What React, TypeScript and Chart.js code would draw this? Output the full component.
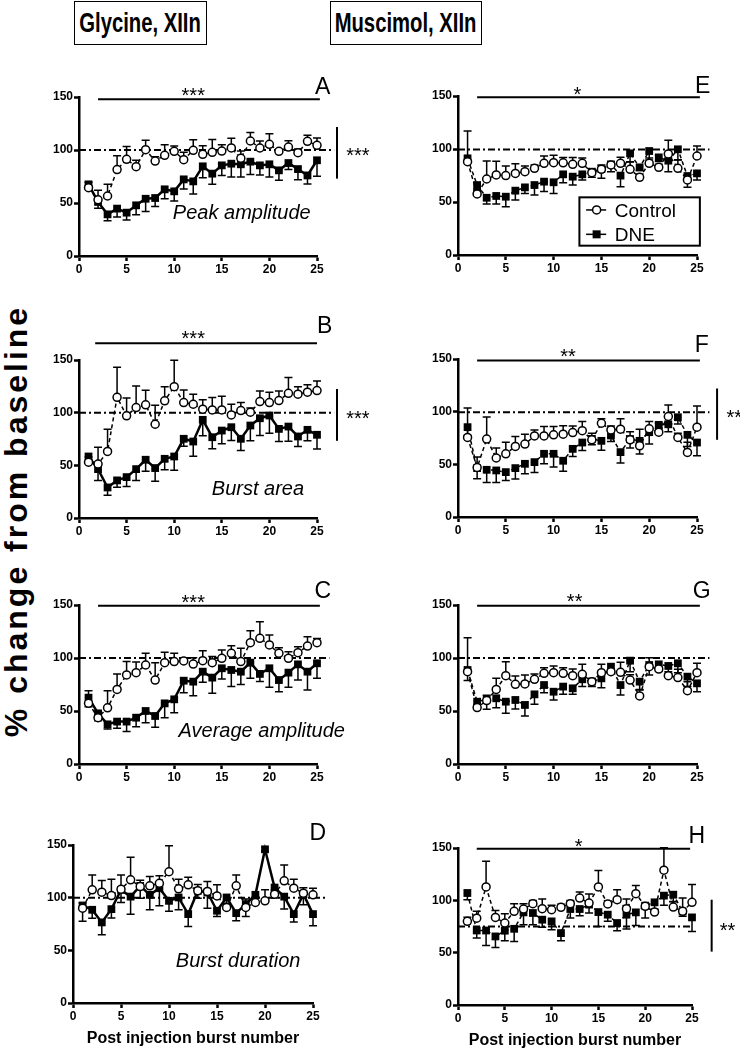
import React, { useEffect, useRef } from "react";
import { Chart, registerables } from "chart.js";

Chart.register(...registerables);

// ---------- data ----------
const bursts = [1, 2, 3, 4, 5, 6, 7, 8, 9, 10, 11, 12, 13, 14, 15, 16, 17, 18, 19, 20, 21, 22, 23, 24, 25];

// Glycine – peak amplitude (A)
const glyPeakCtrl = [64.5, 53, 56.6, 81.5, 91.2, 84.3, 100.3, 89.6, 95, 98.8, 90.9, 99.7, 95.9, 97.8, 99, 102, 92.1, 108.5, 101.9, 105.4, 98.8, 102.8, 97.5, 108.2, 104.4];
const glyPeakCtrlErr = [5, 9, 11, 13, 12, 6, 9, 4, 10, 5, 7, 10, 8, 12, 6, 9, 7, 8, 6.6, 10, 2, 6, 3.5, 5.6, 7];
const glyPeakDne = [67.6, 51, 39.3, 44.7, 40.9, 47.8, 54, 54.7, 62.9, 61, 72.3, 70.4, 84.6, 77.7, 85.5, 87.1, 86.5, 89, 85.5, 86.5, 80.8, 87.7, 82, 76, 90.3];
const glyPeakDneErr = [4, 6, 6, 8, 7, 9, 12, 8, 9, 9, 9, 12, 10.7, 10, 9.5, 12.6, 12, 12, 9, 12, 9.4, 6, 10, 8, 15];

// Glycine – burst area (B)
const glyAreaCtrl = [53, 51.2, 63.2, 114.6, 97, 104.8, 107.4, 89, 111.2, 124.7, 109.6, 108, 103.3, 102.6, 102.6, 97.9, 102, 100.4, 110.5, 109.6, 111.5, 118.4, 117.5, 119.4, 121];
const glyAreaCtrlErr = [5, 16, 21, 28.5, 17, 20.5, 14, 18, 13.5, 25, 12, 9.5, 9, 11.7, 13, 10, 7.6, 4, 10, 9.8, 9, 15, 7, 7, 9];
const glyAreaDne = [58.4, 46.4, 29, 35.7, 38.8, 46.4, 55.3, 47.4, 56.2, 58.4, 75.2, 72.6, 93.2, 76.7, 83, 86.2, 75.2, 87.8, 94.7, 97.3, 84.6, 86.8, 77.4, 83.7, 79];
const glyAreaDneErr = [5, 10.7, 7.5, 6.6, 8.8, 10.7, 11, 12.6, 10.4, 13, 7.2, 14, 15, 11, 12.6, 12.6, 11, 14.5, 16.4, 16.8, 12, 14, 9.5, 10.4, 13.6];

// Glycine – average amplitude (C)
const glyAvgCtrl = [57.2, 43.7, 53, 70.4, 84, 86.2, 93.4, 79.2, 95.6, 96.6, 97.2, 94.3, 97.5, 95.6, 99.7, 104.4, 96.6, 114.5, 118.6, 112.3, 104.4, 99.7, 105, 111.3, 114.5];
const glyAvgCtrlErr = [12, 5.7, 16, 14.5, 12.6, 10, 11, 16.4, 9.8, 7.9, 3, 6, 9.4, 5.7, 7.9, 7.2, 12.6, 11.3, 15.7, 9.4, 5.3, 6.3, 5.7, 8.8, 4];
const glyAvgDne = [62.6, 47.8, 37.4, 40, 40, 43.7, 50, 45.3, 57.2, 61, 78.6, 77.7, 87.1, 81.5, 90.3, 88.7, 87.1, 95.6, 85, 90.3, 79.2, 86.2, 94, 87.1, 95];
const glyAvgDneErr = [8.5, 7, 4.4, 6.3, 9.4, 8.5, 11, 10.7, 13.5, 12.6, 11.3, 13.2, 10, 14.8, 10, 15.7, 12, 14.8, 7.2, 18, 11, 13.8, 14.8, 17.3, 14];

// Glycine – burst duration (D)
const glyDurCtrl = [90, 107.4, 105.2, 102, 108, 116.9, 110.5, 111.2, 113.7, 124.6, 108.4, 112.2, 106.5, 105.9, 101.7, 90.7, 111.2, 90.7, 95.4, 97, 103.3, 116, 109, 104.3, 102.7];
const glyDurCtrlErr = [5, 14.2, 11, 15.5, 13.6, 21.5, 6, 8.8, 7, 24.8, 9, 7.3, 6, 9.4, 10.5, 4, 10.4, 8, 5, 10.4, 4, 15, 8.5, 5, 6.3];
const glyDurDne = [92.6, 88.5, 76.5, 89.1, 107.4, 101, 111.2, 102.7, 109, 97, 100.2, 84.4, 106.5, 104.9, 87.6, 100.2, 85.3, 93.9, 102.7, 145.9, 109.6, 101, 84.4, 103.3, 84.4];
const glyDurDneErr = [15, 8, 11.7, 8.5, 12, 16.7, 11.7, 14.2, 16.7, 10, 11.7, 11.7, 7, 15, 5.4, 6, 7.3, 11.7, 3, 2, 10, 11.7, 7.6, 10, 11];

// Muscimol – peak amplitude (E)
const musPeakCtrl = [88, 57.6, 71.7, 75.5, 74.9, 77, 78.6, 81.8, 86.5, 87.1, 87, 85.5, 86.5, 77.7, 80.8, 85, 86.5, 80.8, 73.3, 86.5, 82.7, 95.3, 81.8, 70.8, 93.4];
const musPeakCtrlErr = [29, 3, 17, 13, 9, 9, 5.4, 3, 7, 7, 5, 6.5, 5, 3, 4, 3, 5.7, 7, 3, 5, 3, 13, 8, 4.7, 9.4];
const musPeakDne = [91.2, 66, 54, 55.7, 55, 60.7, 63.8, 66, 69.2, 68.6, 76.1, 73.9, 76.1, 78.6, 81.1, 85.5, 74.9, 95.9, 82.7, 98.1, 92.1, 89, 99.7, 74.5, 77];
const musPeakDneErr = [4, 4, 6, 7.5, 9.4, 8.8, 5.7, 9.4, 9.4, 10.6, 7.9, 7.9, 5.3, 5.3, 8.8, 7, 10.4, 8, 3, 8.5, 4, 10.4, 10, 10.7, 6.3];

// Muscimol – burst area (F)
const musAreaCtrl = [75.5, 47, 74, 56, 60, 67, 69.2, 77, 77, 78, 78.6, 80.2, 82, 73.3, 89, 82.7, 83.4, 73.3, 67.6, 83.7, 80.5, 95.4, 75.5, 61.3, 85.3];
const musAreaCtrlErr = [28, 10, 21, 9.5, 11, 9.5, 9.4, 5.7, 8.8, 8, 8, 6.3, 8.6, 6.3, 4.2, 3.8, 9.8, 7.7, 15.8, 7, 8.5, 11, 4, 9.7, 20];
const musAreaDne = [85.3, 46.4, 44.8, 44.2, 42.6, 46.4, 50.5, 52.1, 60, 60, 53.4, 64.7, 70.7, 74.2, 72.3, 77.4, 61.6, 74, 72.3, 80.5, 87.5, 88, 94.7, 78, 70.7];
const musAreaDneErr = [8, 10, 12, 11.4, 8, 10.4, 9.5, 9.8, 9.5, 12.6, 10, 7.2, 7.6, 5.7, 9, 5.7, 10.4, 8.5, 12.6, 11.3, 3.8, 7, 6.3, 11, 12.6];

// Muscimol – average amplitude (G)
const musAvgCtrl = [87.1, 53.2, 59.8, 70.4, 83.3, 75.2, 75.5, 79.9, 85.5, 86.2, 85.5, 83.3, 84.6, 77.7, 86.2, 87.1, 86.5, 79.2, 64.2, 91.8, 89.6, 83.3, 81.5, 69.2, 86.2];
const musAvgCtrlErr = [32, 3, 5, 10.4, 13.2, 7.9, 8.5, 5, 5.4, 6.3, 5.4, 6.3, 9.4, 3, 7.8, 2, 9.4, 5, 6, 8.5, 2, 2, 7.8, 8.5, 8.8];
const musAvgDne = [88.7, 58.8, 61, 62, 58.8, 60.4, 55.7, 65.7, 74.5, 68.2, 73, 71.4, 79.9, 77.7, 80.8, 91.8, 74.5, 97.5, 77.7, 93.4, 94, 92.5, 95, 82.4, 76.1];
const musAvgDneErr = [10, 5.8, 9.4, 9, 11, 8.5, 10.4, 9.4, 7.2, 7.9, 7.2, 5.7, 6.9, 4.7, 8.8, 3, 9.4, 10.4, 7.9, 9.4, 6.3, 5.4, 8.8, 9.4, 7.9];

// Muscimol – burst duration (H)
const musDurCtrl = [79.9, 83, 112.8, 83.7, 78.3, 89.5, 91.7, 96.8, 92, 91, 93.3, 96.8, 102.2, 97.4, 112.8, 96.5, 100.6, 92, 106.4, 94.3, 88.8, 128.8, 93.6, 89.5, 98.1];
const musDurCtrlErr = [4, 6.5, 24.6, 6.7, 9, 7.3, 5.1, 3, 9.3, 4.2, 3, 3, 5.8, 8.6, 15.6, 3, 9.6, 9.3, 7.7, 3, 3, 21.4, 5, 12.8, 17];
const musDurDne = [107, 71.2, 71.2, 65.5, 71, 72.8, 88.5, 87.9, 81.5, 79.9, 68.7, 91.7, 91.7, 95.9, 88.8, 86.3, 78.3, 86.3, 88.5, 94.9, 98.1, 104.5, 105.4, 89.5, 83.7];
const musDurDneErr = [6.4, 7.3, 14.3, 10.5, 9.6, 12.1, 11.8, 11.2, 7.1, 8, 7.3, 8.6, 6.4, 8, 13.8, 6.4, 7.3, 13.8, 12.5, 11.8, 7, 9.3, 6.4, 4.8, 13.4];

const xTicks = [0, 5, 10, 15, 20, 25];
const yTicks = [0, 50, 100, 150];
const seriesNames = ["Control", "DNE"];

// ---------- layout ----------
const FONT = "'Liberation Sans', Arial, Helvetica, sans-serif";
const Y_W = 50;
const PAD_TOP = 62;
const PAD_RIGHT = 85;

type PanelCfg = {
  letter: string;
  lx: number;
  ly: number;
  ctrl: number[];
  ctrlErr: number[];
  dne: number[];
  dneErr: number[];
  area: { l: number; t: number; r: number; b: number };
  solidDne: boolean;
  refY: number;
  refEnd: number;
  sig?: { x0: number; x1: number; y: number; text: string; tx: number; ty: number };
  vsig?: { x: number; y0: number; y1: number; text: string; tx: number; ty: number };
  label?: { text: string; x: number; y: number };
  legend?: boolean;
  xTitle?: boolean;
};

const panels: PanelCfg[] = [
  {
    letter: "A", lx: 25.6, ly: 161,
    ctrl: glyPeakCtrl, ctrlErr: glyPeakCtrlErr, dne: glyPeakDne, dneErr: glyPeakDneErr,
    area: { l: 79, t: 97, r: 317, b: 256 }, solidDne: true, refY: 100, refEnd: 26.8,
    sig: { x0: 2, x1: 25.3, y: 147.8, text: "***", tx: 12, ty: 156 },
    vsig: { x: 27.1, y0: 73, y1: 121.7, text: "***", tx: 29.3, ty: 99 },
    label: { text: "Peak amplitude", x: 17.1, y: 41.5 },
  },
  {
    letter: "E", lx: 25.6, ly: 161,
    ctrl: musPeakCtrl, ctrlErr: musPeakCtrlErr, dne: musPeakDne, dneErr: musPeakDneErr,
    area: { l: 458, t: 96, r: 697, b: 255 }, solidDne: false, refY: 99.5, refEnd: 26.3,
    sig: { x0: 2, x1: 25.3, y: 148.8, text: "*", tx: 12.5, ty: 156 },
    legend: true,
  },
  {
    letter: "B", lx: 25.8, ly: 183.8,
    ctrl: glyAreaCtrl, ctrlErr: glyAreaCtrlErr, dne: glyAreaDne, dneErr: glyAreaDneErr,
    area: { l: 79, t: 360, r: 317, b: 518 }, solidDne: true, refY: 100, refEnd: 26.8,
    sig: { x0: 1.7, x1: 25, y: 165.8, text: "***", tx: 12, ty: 175 },
    vsig: { x: 27.1, y0: 73.3, y1: 122.5, text: "***", tx: 29.3, ty: 99.5 },
    label: { text: "Burst area", x: 18.8, y: 28.4 },
  },
  {
    letter: "F", lx: 25.5, ly: 164.8,
    ctrl: musAreaCtrl, ctrlErr: musAreaCtrlErr, dne: musAreaDne, dneErr: musAreaDneErr,
    area: { l: 458, t: 359, r: 697, b: 517 }, solidDne: false, refY: 99.5, refEnd: 26.3,
    sig: { x0: 2, x1: 25.3, y: 148.5, text: "**", tx: 11.5, ty: 157 },
    vsig: { x: 27.1, y0: 73.3, y1: 122, text: "**", tx: 28.9, ty: 99.5 },
  },
  {
    letter: "C", lx: 25.6, ly: 164,
    ctrl: glyAvgCtrl, ctrlErr: glyAvgCtrlErr, dne: glyAvgDne, dneErr: glyAvgDneErr,
    area: { l: 79, t: 605, r: 317, b: 764 }, solidDne: true, refY: 100, refEnd: 26.3,
    sig: { x0: 2, x1: 25.3, y: 149.4, text: "***", tx: 12, ty: 157 },
    label: { text: "Average amplitude", x: 19.2, y: 32 },
  },
  {
    letter: "G", lx: 25.5, ly: 164,
    ctrl: musAvgCtrl, ctrlErr: musAvgCtrlErr, dne: musAvgDne, dneErr: musAvgDneErr,
    area: { l: 458, t: 605, r: 697, b: 764 }, solidDne: false, refY: 100, refEnd: 26.3,
    sig: { x0: 2, x1: 25.3, y: 149.4, text: "**", tx: 12.2, ty: 158 },
  },
  {
    letter: "D", lx: 25.5, ly: 162.6,
    ctrl: glyDurCtrl, ctrlErr: glyDurCtrlErr, dne: glyDurDne, dneErr: glyDurDneErr,
    area: { l: 73, t: 845, r: 313, b: 1003 }, solidDne: true, refY: 100, refEnd: 26.4,
    label: { text: "Burst duration", x: 17.2, y: 41.2 },
    xTitle: true,
  },
  {
    letter: "H", lx: 25.5, ly: 163,
    ctrl: musDurCtrl, ctrlErr: musDurCtrlErr, dne: musDurDne, dneErr: musDurDneErr,
    area: { l: 458, t: 848, r: 692, b: 1005 }, solidDne: false, refY: 75, refEnd: 25,
    sig: { x0: 2, x1: 24.8, y: 149.2, text: "*", tx: 12.9, ty: 156.5 },
    vsig: { x: 27.1, y0: 51, y1: 100.6, text: "**", tx: 28.8, ty: 76 },
    xTitle: true,
  },
];

function makeDeco(cfg: PanelCfg) {
  return {
    id: "deco",
    beforeDatasetsDraw(chart: any) {
      const ctx: CanvasRenderingContext2D = chart.ctx;
      const xs = chart.scales.x;
      const ys = chart.scales.y;
      const X = (v: number) => xs.getPixelForValue(v);
      const Y = (v: number) => ys.getPixelForValue(v);
      ctx.save();
      ctx.strokeStyle = "#000";
      ctx.lineWidth = 2;
      ctx.setLineDash([7, 3, 2, 3]);
      ctx.beginPath();
      ctx.moveTo(X(0), Y(cfg.refY));
      ctx.lineTo(X(cfg.refEnd), Y(cfg.refY));
      ctx.stroke();
      ctx.setLineDash([]);
      ctx.lineWidth = 1.5;
      const bars = (vals: number[], errs: number[], dir: number) => {
        vals.forEach((v, i) => {
          const px = X(bursts[i]);
          const p0 = Y(v);
          const p1 = Y(v + dir * errs[i]);
          ctx.beginPath();
          ctx.moveTo(px, p0);
          ctx.lineTo(px, p1);
          ctx.moveTo(px - 4, p1);
          ctx.lineTo(px + 4, p1);
          ctx.stroke();
        });
      };
      bars(cfg.ctrl, cfg.ctrlErr, 1);
      bars(cfg.dne, cfg.dneErr, -1);
      ctx.restore();
    },
    afterDraw(chart: any) {
      const ctx: CanvasRenderingContext2D = chart.ctx;
      const xs = chart.scales.x;
      const ys = chart.scales.y;
      const X = (v: number) => xs.getPixelForValue(v);
      const Y = (v: number) => ys.getPixelForValue(v);
      ctx.save();
      ctx.fillStyle = "#000";
      ctx.strokeStyle = "#000";
      ctx.textAlign = "center";
      ctx.textBaseline = "alphabetic";
      const starSize = 20;
      if (cfg.sig) {
        const s = cfg.sig;
        ctx.lineWidth = 2;
        ctx.beginPath();
        ctx.moveTo(X(s.x0), Y(s.y));
        ctx.lineTo(X(s.x1), Y(s.y));
        ctx.stroke();
        ctx.font = `${starSize}px ${FONT}`;
        ctx.fillText(s.text, X(s.tx), Y(s.ty) + 0.57 * starSize);
      }
      if (cfg.vsig) {
        const s = cfg.vsig;
        ctx.lineWidth = 2;
        ctx.beginPath();
        ctx.moveTo(X(s.x), Y(s.y0));
        ctx.lineTo(X(s.x), Y(s.y1));
        ctx.stroke();
        ctx.font = `${starSize}px ${FONT}`;
        ctx.fillText(s.text, X(s.tx), Y(s.ty) + 0.57 * starSize);
      }
      const letterSize = 23;
      ctx.font = `${letterSize}px ${FONT}`;
      ctx.fillText(cfg.letter, X(cfg.lx), Y(cfg.ly) + 0.358 * letterSize);
      if (cfg.label) {
        ctx.font = `italic 20px ${FONT}`;
        ctx.fillText(cfg.label.text, X(cfg.label.x), Y(cfg.label.y) + 7);
      }
      if (cfg.legend) {
        const bl = X(12.7), br = X(25.3), bt = Y(54.4), bb = Y(8.8);
        ctx.lineWidth = 2;
        ctx.fillStyle = "#fff";
        ctx.fillRect(bl, bt, br - bl, bb - bt);
        ctx.strokeRect(bl, bt, br - bl, bb - bt);
        ctx.fillStyle = "#000";
        const rows = [42.5, 19.5];
        rows.forEach((rv, i) => {
          const cy = Y(rv);
          ctx.lineWidth = 1.5;
          ctx.beginPath();
          ctx.moveTo(X(13.4), cy);
          ctx.lineTo(X(15.5), cy);
          ctx.stroke();
          const mx = X(14.5);
          if (i === 0) {
            ctx.beginPath();
            ctx.arc(mx, cy, 4, 0, Math.PI * 2);
            ctx.fillStyle = "#fff";
            ctx.fill();
            ctx.stroke();
            ctx.fillStyle = "#000";
          } else {
            ctx.fillRect(mx - 4, cy - 4, 8, 8);
          }
          ctx.textAlign = "left";
          ctx.font = `19px ${FONT}`;
          ctx.fillText(seriesNames[i], X(16.4), cy + 7);
          ctx.textAlign = "center";
        });
      }
      ctx.restore();
    },
  };
}

function PanelChart({ cfg }: { cfg: PanelCfg }) {
  const ref = useRef<HTMLCanvasElement>(null);
  const { l, t, r, b } = cfg.area;
  const xH = cfg.xTitle ? 45 : 28;
  const left = l - Y_W;
  const top = t - PAD_TOP;
  const width = r - l + Y_W + PAD_RIGHT;
  const height = b - t + PAD_TOP + xH;

  useEffect(() => {
    if (!ref.current) return;
    const tickFont = { family: FONT, size: 12, weight: "bold" as const };
    const chart = new Chart(ref.current, {
      type: "line",
      data: {
        datasets: [
          {
            label: seriesNames[0],
            data: bursts.map((x, i) => ({ x, y: cfg.ctrl[i] })),
            borderColor: "#000",
            borderWidth: 1.5,
            borderDash: [4, 3],
            pointStyle: "circle",
            pointRadius: 4,
            pointBorderWidth: 1.5,
            pointBackgroundColor: "#fff",
            pointBorderColor: "#000",
            tension: 0,
            clip: false as any,
          },
          {
            label: seriesNames[1],
            data: bursts.map((x, i) => ({ x, y: cfg.dne[i] })),
            borderColor: "#000",
            borderWidth: cfg.solidDne ? 2.5 : 1.5,
            borderDash: cfg.solidDne ? [] : [4, 3],
            pointStyle: "rect",
            pointRadius: 5.5,
            pointBorderWidth: 0,
            pointBackgroundColor: "#000",
            pointBorderColor: "#000",
            tension: 0,
            clip: false as any,
          },
        ],
      },
      options: {
        responsive: false,
        animation: false,
        devicePixelRatio: 1,
        layout: { padding: { top: PAD_TOP, right: PAD_RIGHT, left: 0, bottom: 0 } },
        plugins: { legend: { display: false }, tooltip: { enabled: false } },
        scales: {
          x: {
            type: "linear",
            min: 0,
            max: 25,
            afterFit: (s: any) => {
              s.height = xH;
            },
            afterBuildTicks: (s: any) => {
              s.ticks = xTicks.map((v) => ({ value: v }));
            },
            ticks: { font: tickFont, color: "#000", padding: 1, maxRotation: 0, autoSkip: false },
            grid: {
              display: true,
              drawOnChartArea: false,
              drawTicks: true,
              tickLength: 5,
              tickWidth: 2.5,
              tickColor: "#000",
            },
            border: { display: true, color: "#000", width: 2.5 },
            title: {
              display: !!cfg.xTitle,
              text: "Post injection burst number",
              color: "#000",
              font: { family: FONT, size: 16, weight: "bold" },
              padding: { top: 0, bottom: 0 },
            },
          },
          y: {
            type: "linear",
            min: 0,
            max: 150,
            afterFit: (s: any) => {
              s.width = Y_W;
            },
            afterBuildTicks: (s: any) => {
              s.ticks = yTicks.map((v) => ({ value: v }));
            },
            ticks: { font: tickFont, color: "#000", padding: 1 },
            grid: {
              display: true,
              drawOnChartArea: false,
              drawTicks: true,
              tickLength: 5,
              tickWidth: 2.5,
              tickColor: "#000",
            },
            border: { display: true, color: "#000", width: 2.5 },
          },
        },
      } as any,
      plugins: [makeDeco(cfg)],
    });
    return () => chart.destroy();
  }, []);

  return (
    <canvas
      ref={ref}
      width={width}
      height={height}
      style={{ position: "absolute", left, top, width, height }}
    />
  );
}

function HeaderBox({ text, left, width }: { text: string; left: number; width: number }) {
  return (
    <div
      style={{
        position: "absolute",
        left,
        top: 1,
        width,
        height: 44,
        boxSizing: "border-box",
        border: "1.5px solid #000",
        display: "flex",
        alignItems: "center",
        justifyContent: "center",
        overflow: "visible",
        background: "#fff",
      }}
    >
      <span
        style={{
          display: "inline-block",
          fontFamily: FONT,
          fontWeight: "bold",
          fontSize: 27,
          whiteSpace: "nowrap",
          transform: "scaleX(0.75)",
          lineHeight: "30px",
          color: "#000",
        }}
      >
        {text}
      </span>
    </div>
  );
}

export default function App() {
  return (
    <div
      style={{
        position: "absolute",
        left: 0,
        top: 0,
        width: 740,
        height: 1050,
        background: "#fff",
        overflow: "hidden",
      }}
    >
      <HeaderBox text="Glycine, XIIn" left={74} width={133} />
      <HeaderBox text="Muscimol, XIIn" left={330} width={152} />
      <div
        style={{
          position: "absolute",
          left: 16 - 230,
          top: 521 - 20,
          width: 460,
          height: 40,
          lineHeight: "40px",
          textAlign: "center",
          transform: "rotate(-90deg)",
          transformOrigin: "center center",
          fontFamily: FONT,
          fontWeight: "bold",
          fontSize: 32,
          letterSpacing: 3,
          whiteSpace: "nowrap",
          color: "#000",
        }}
      >
        % change from baseline
      </div>
      {panels.map((p) => (
        <PanelChart key={p.letter} cfg={p} />
      ))}
    </div>
  );
}
